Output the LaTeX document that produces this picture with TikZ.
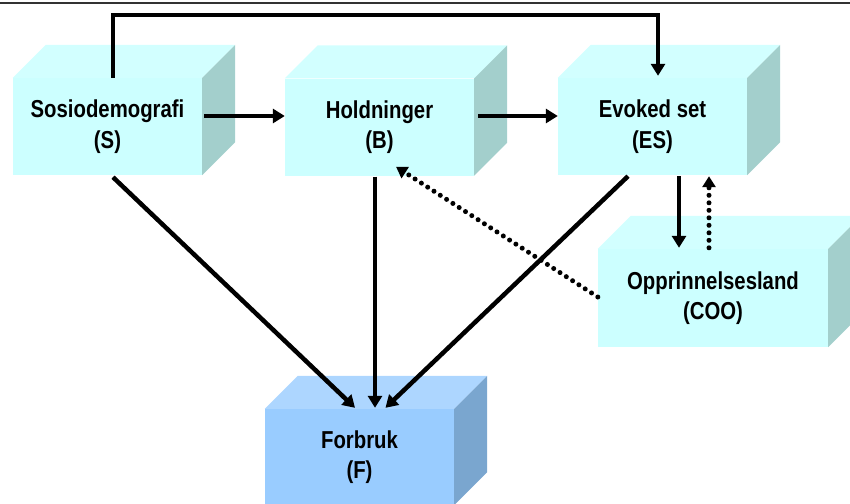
\documentclass[tikz,border=0pt]{standalone}
\usepackage{fontspec}
\newfontfamily\lblfont{Liberation Sans}[FakeStretch=0.83]
\usetikzlibrary{arrows.meta,calc}

\definecolor{cyfront}{HTML}{CCFFFF}
\definecolor{cytop}{HTML}{D2FFFF}
\definecolor{cyside}{HTML}{A3CFCC}
\definecolor{blfront}{HTML}{99CCFF}
\definecolor{bltop}{HTML}{ADD6FF}
\definecolor{blside}{HTML}{7AA6CF}

\tikzset{
  cubefront/.style={rectangle, inner sep=0pt, minimum width=189pt, minimum height=97pt,
    align=center, font=\lblfont\bfseries\fontsize{24.5}{30.5}\selectfont},
  conn/.style={line width=4.5pt, -{Triangle[length=12pt,width=14pt]}},
  dotconn/.style={line width=5pt, line cap=round, dash pattern=on 0pt off 7.5pt,
    -{Triangle[length=11pt,width=13pt]}},
}

% top and right faces of a box whose front face is node #1
\newcommand\cubefaces[3]{%
  \fill[#2] (#1.north west) -- ++(33,-33) -- ($(#1.north east)+(33,-33)$) -- (#1.north east) -- cycle;
  \fill[#3] (#1.north east) -- ++(33,-33) -- ($(#1.south east)+(33,-33)$) -- (#1.south east) -- cycle;
}

\begin{document}
\begin{tikzpicture}[x=1pt, y=-1pt]
  \useasboundingbox (0,0) rectangle (850,503);
  \clip (0,0) rectangle (850,503);

  % rule along the top
  \draw[line width=2pt, black!80] (0,3) -- (850,3);

  % boxes
  \node[cubefront, fill=cyfront] (S) at (107.5,126.5) {Sosiodemografi\\(S)};
  \node[cubefront, fill=cyfront] (B) at (379.5,127) {Holdninger\\(B)};
  \node[cubefront, fill=cyfront] (ES) at (652.5,126.5) {Evoked set\\(ES)};
  \node[cubefront, fill=cyfront, minimum width=230pt, minimum height=98pt] (COO) at (713,298) {Opprinnelsesland\\(COO)};
  \node[cubefront, fill=blfront, minimum height=96pt] (F) at (359.5,457) {Forbruk\\(F)};

  \cubefaces{S}{cytop}{cyside}
  \cubefaces{B}{cytop}{cyside}
  \cubefaces{ES}{cytop}{cyside}
  \cubefaces{COO}{cytop}{cyside}
  \cubefaces{F}{bltop}{blside}

  % connectors
  \draw[conn] ([xshift=5.5pt]S.north) -- ++(0,-63) -| ([xshift=5.5pt,yshift=2pt]ES.north);
  \draw[conn] ([xshift=2pt,yshift=10.5pt]S.east) -- ([yshift=11pt]B.west);
  \draw[conn] ([xshift=4pt,yshift=11pt]B.east) -- ([yshift=10.5pt]ES.west);
  \draw[conn] ([xshift=5.5pt,yshift=-2pt]S.south) -- ([xshift=-4.5pt,yshift=1pt]F.north);
  \draw[conn] ([xshift=-4.5pt,yshift=-1pt]B.south) -- ([xshift=15.5pt,yshift=1pt]F.north);
  \draw[conn] ([xshift=-24.5pt,yshift=-1pt]ES.south) -- ([xshift=26pt,yshift=1pt]F.north);
  \draw[conn] ([xshift=26.5pt,yshift=-1pt]ES.south) -- ([xshift=-34pt,yshift=1pt]COO.north);
  \draw[dotconn] ([xshift=-4pt,yshift=1pt]COO.north) -- ([xshift=56.5pt,yshift=-1pt]ES.south);
  \draw[dotconn] ([yshift=1pt]COO.west) -- ([shift={(16.5pt,9pt)}]B.south);
\end{tikzpicture}
\end{document}
